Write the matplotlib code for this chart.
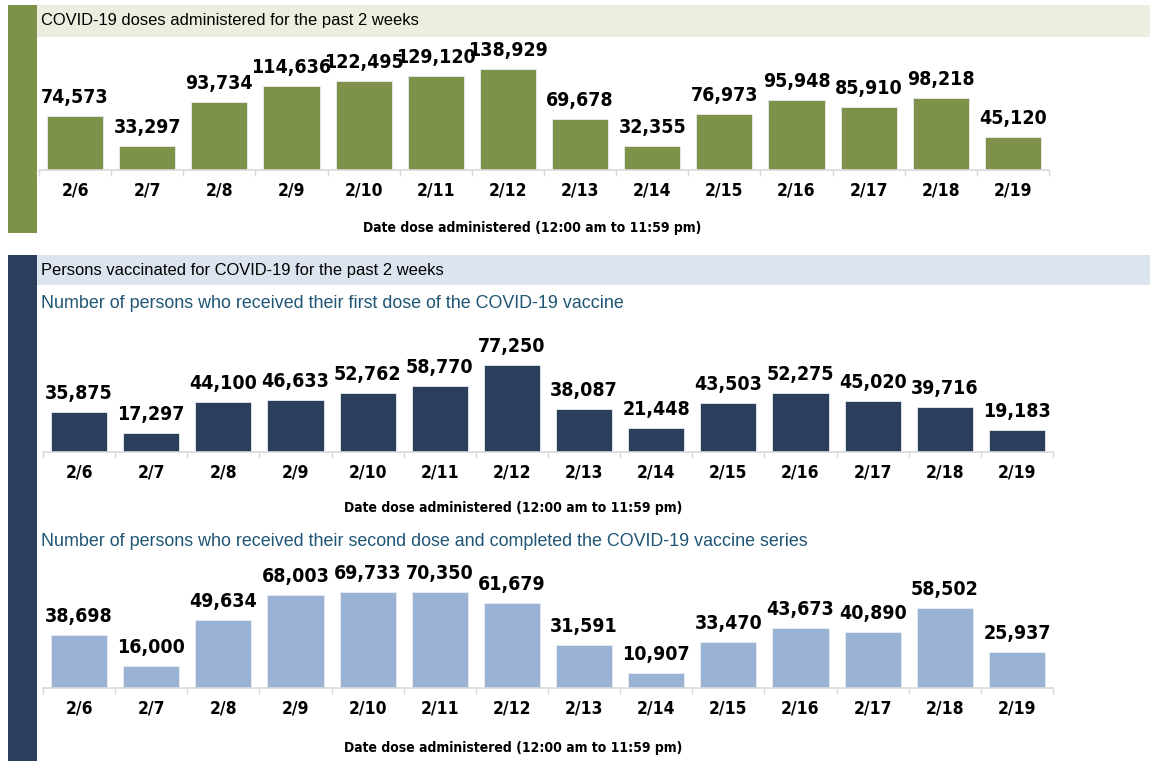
import matplotlib
matplotlib.use("Agg")
from matplotlib import pyplot, font_manager
from matplotlib.patches import Rectangle
import numpy as np

W, H = 1161, 768

dates = ["2/6", "2/7", "2/8", "2/9", "2/10", "2/11", "2/12",
         "2/13", "2/14", "2/15", "2/16", "2/17", "2/18", "2/19"]
doses_total = [74573, 33297, 93734, 114636, 122495, 129120, 138929,
               69678, 32355, 76973, 95948, 85910, 98218, 45120]
first_dose = [35875, 17297, 44100, 46633, 52762, 58770, 77250,
              38087, 21448, 43503, 52275, 45020, 39716, 19183]
second_dose = [38698, 16000, 49634, 68003, 69733, 70350, 61679,
               31591, 10907, 33470, 43673, 40890, 58502, 25937]

green = "#7D9148"
navy = "#2B3F5D"
light_blue = "#9AB3D5"
band_green = "#EBEFE0"
band_blue = "#DCE4EF"
sub_color = "#1F5575"
plain = ["Liberation Sans", "DejaVu Sans"]

# use a condensed face if one is installed, otherwise Liberation Sans a bit smaller
names = {(f.name, f.stretch) for f in font_manager.fontManager.ttflist}
if any(n == "DejaVu Sans" and s == "condensed" for n, s in names):
    narrow = dict(family="DejaVu Sans", stretch="condensed")
    sizes = (14, 12.5, 10)
else:
    narrow = dict(family="Liberation Sans")
    sizes = (12.5, 12, 9.5)


def box(x0, y0, x1, y1):
    # pixel box (top-left origin) -> figure fraction rect
    return [x0 / W, 1 - y1 / H, (x1 - x0) / W, (y1 - y0) / H]


fig = pyplot.figure(figsize=(W / 100, H / 100), dpi=100)

# side bars and header bands
for (x0, y0, x1, y1), c in [((8, 5, 37, 233), green),
                            ((37, 5, 1150, 37), band_green),
                            ((8, 255, 37, 761), navy),
                            ((37, 255, 1150, 285), band_blue)]:
    r = box(x0, y0, x1, y1)
    fig.patches.append(Rectangle((r[0], r[1]), r[2], r[3], transform=fig.transFigure,
                                 facecolor=c, edgecolor="none", zorder=0))

fig.text(41 / W, 1 - 21 / H, "COVID-19 doses administered for the past 2 weeks",
         fontsize=11.9, family=plain, color="black", va="center")
fig.text(41 / W, 1 - 271 / H, "Persons vaccinated for COVID-19 for the past 2 weeks",
         fontsize=11.9, family=plain, color="black", va="center")
fig.text(41 / W, 1 - 304 / H,
         "Number of persons who received their first dose of the COVID-19 vaccine",
         fontsize=12.9, family=plain, color=sub_color, va="center")
fig.text(41 / W, 1 - 542 / H,
         "Number of persons who received their second dose and completed the COVID-19 vaccine series",
         fontsize=12.9, family=plain, color=sub_color, va="center")


def bar_chart(rect, values, color, ymax, xlabel_pos):
    ax = fig.add_axes(box(*rect))
    x = np.arange(len(dates))
    ax.bar(x, values, width=0.78, color=color, edgecolor="#E8ECF2", linewidth=0.6)
    for xi, v in zip(x, values):
        ax.annotate(f"{v:,}", (xi, v), xytext=(0, 6.5), textcoords="offset points",
                    ha="center", va="bottom", fontsize=sizes[0], fontweight="bold",
                    **narrow)
    ax.set_xlim(-0.5, len(dates) - 0.5)
    ax.set_ylim(0, ymax)
    ax.set_xticks(x)
    ax.set_xticklabels(dates, fontsize=sizes[1], fontweight="bold", **narrow)
    ax.set_xticks(np.arange(len(dates) + 1) - 0.5, minor=True)
    ax.tick_params(axis="x", which="major", length=0, pad=8.5)
    ax.tick_params(axis="x", which="minor", length=4, color="#D9D9D9", width=1)
    ax.set_yticks([])
    for s in ["top", "left", "right"]:
        ax.spines[s].set_visible(False)
    ax.spines["bottom"].set_color("#D9D9D9")
    ax.spines["bottom"].set_linewidth(1.2)
    ax.patch.set_alpha(0)
    fig.text(xlabel_pos[0] / W, 1 - xlabel_pos[1] / H,
             "Date dose administered (12:00 am to 11:59 pm)",
             fontsize=sizes[2], fontweight="bold", ha="center", va="center", **narrow)
    return ax


bar_chart((39, 40, 1049, 170), doses_total, green, 178000, (532, 228))
bar_chart((43, 322, 1053, 452), first_dose, navy, 115700, (513, 508))
bar_chart((43, 560, 1053, 688), second_dose, light_blue, 93400, (513, 748))

pyplot.savefig("out.png", dpi=100)
